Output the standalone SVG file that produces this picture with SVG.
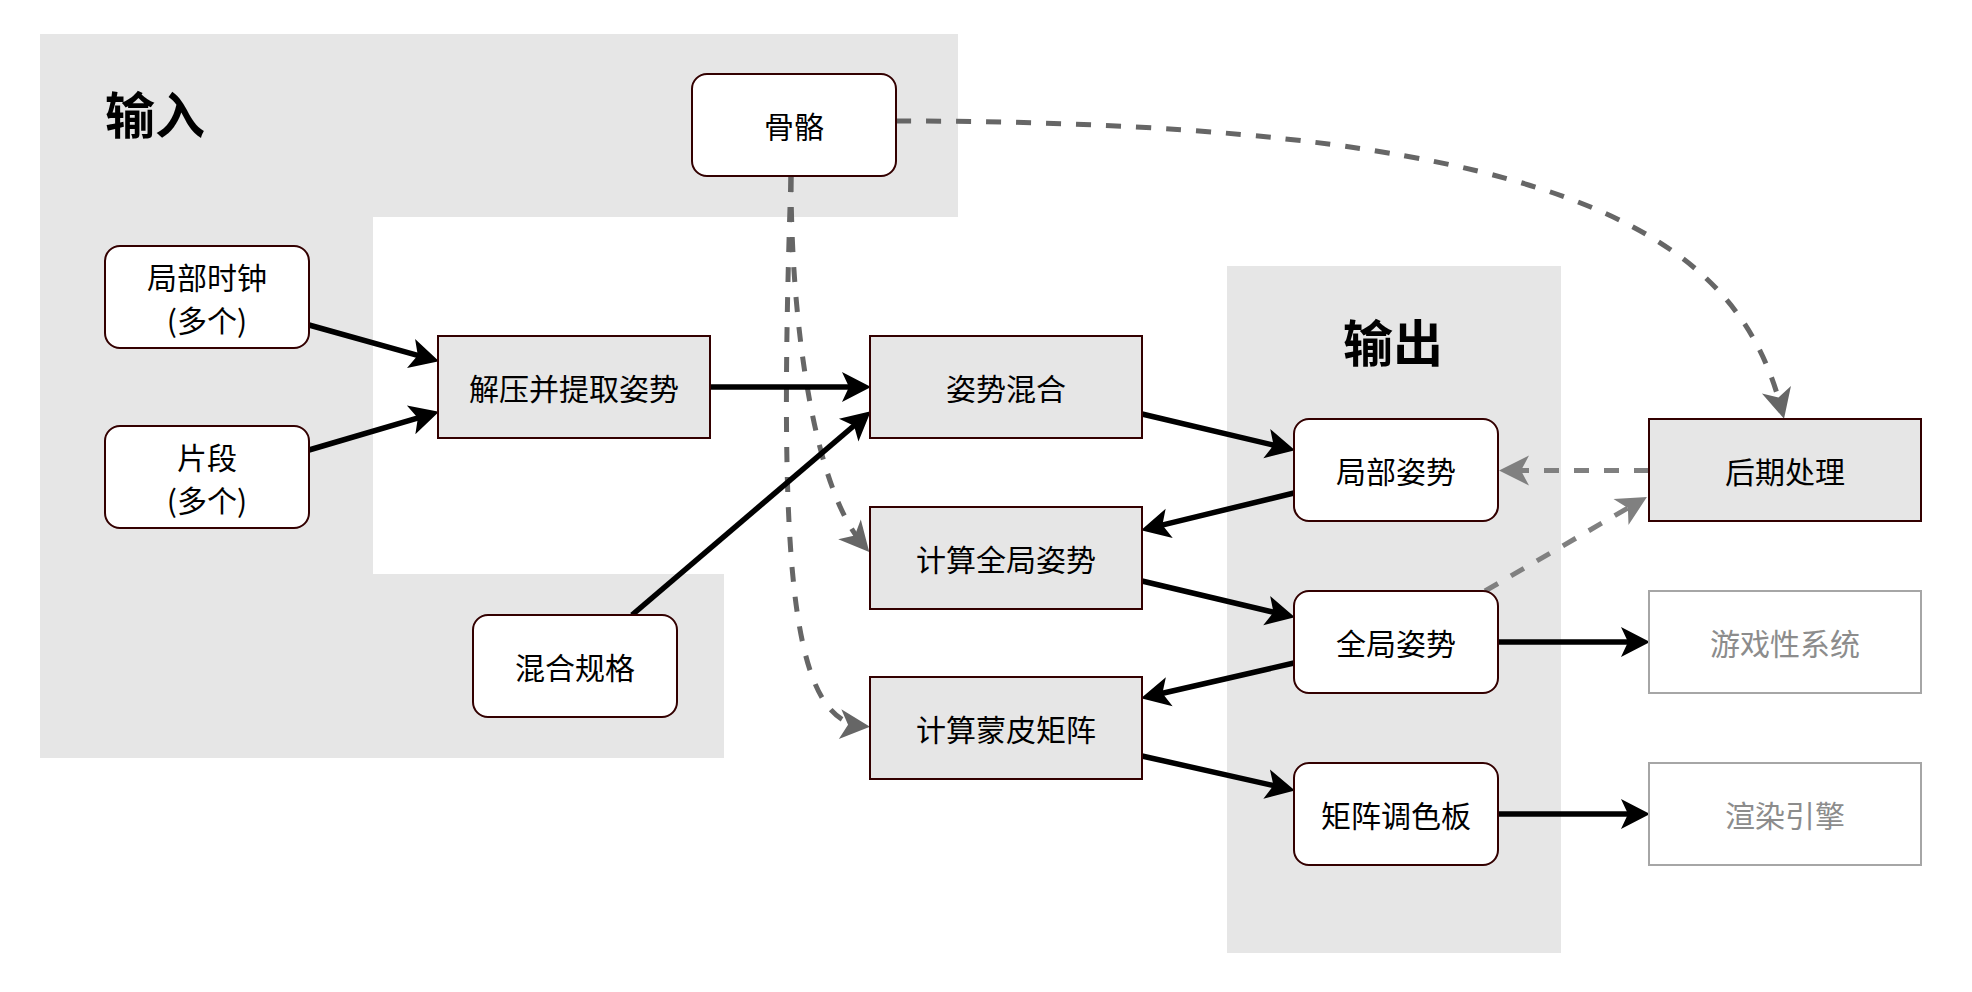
<svg xmlns="http://www.w3.org/2000/svg" width="1972" height="992" viewBox="0 0 1972 992">
<style>
text{font-family:"Noto Sans CJK SC","Noto Sans",sans-serif;text-anchor:middle;dominant-baseline:central;}
.lbl{font-size:30px;fill:#000;}
.ttl{font-size:50px;font-weight:bold;fill:#000;}
.dim{font-size:30px;fill:#8c8c8c;}
.panel{fill:#e6e6e6;stroke:none;}
.rnd{fill:#ffffff;stroke:#330000;stroke-width:2;}
.box{fill:#e6e6e6;stroke:#330000;stroke-width:2;}
.ext{fill:#ffffff;stroke:#a6a6a6;stroke-width:2;}
.solid{fill:none;stroke:#000;stroke-width:5.5;marker-end:url(#ab);}
.dash{fill:none;stroke:#666;stroke-width:5;stroke-dasharray:15 15;marker-end:url(#ag);}
.dash2{fill:none;stroke:#808080;stroke-width:5;stroke-dasharray:15 15;marker-end:url(#ag2);}
</style>
<defs>
<marker id="ab" markerUnits="userSpaceOnUse" markerWidth="30" markerHeight="30" refX="18" refY="15" orient="auto" overflow="visible"><path d="M0,0 L29,15 L0,30 L7,15 Z" fill="#000"/></marker>
<marker id="ag" markerUnits="userSpaceOnUse" markerWidth="32" markerHeight="32" refX="22" refY="15" orient="auto" overflow="visible"><path d="M0,0 L30,15 L0,30 L8,15 Z" fill="#666"/></marker>
<marker id="ag2" markerUnits="userSpaceOnUse" markerWidth="32" markerHeight="32" refX="22" refY="15" orient="auto" overflow="visible"><path d="M0,0 L30,15 L0,30 L8,15 Z" fill="#808080"/></marker>
</defs>
<g id="panels">
<polygon class="panel" points="40,34 958,34 958,217 373,217 373,574 724,574 724,758 40,758"/>
<rect class="panel" x="1227" y="266" width="334" height="687"/>
<text class="ttl" x="155" y="112">输入</text>
<text class="ttl" x="1393" y="340">输出</text>
</g>
<g id="connectors">
<path class="dash" d="M 896 121 C 1600 121, 1740 250, 1782 411"/>
<path class="dash" d="M 791 177 C 791 330, 815 490, 864 546"/>
<path class="dash" d="M 791 177 C 778 560, 790 720, 862 726"/>
<path class="dash2" d="M 1649 470.5 L 1507 470.5"/>
<path class="dash2" d="M 1485 591 L 1640 501"/>
<path class="solid" d="M 309 325 L 428.4 358.3"/>
<path class="solid" d="M 309 450 L 428.4 414.8"/>
<path class="solid" d="M 710 387 L 860 387"/>
<path class="solid" d="M 632 615 L 862.4 418.5"/>
<path class="solid" d="M 1142 414 L 1284.3 447.7"/>
<path class="solid" d="M 1294 493 L 1151.7 527.6"/>
<path class="solid" d="M 1142 581 L 1284.2 614.8"/>
<path class="solid" d="M 1294 663 L 1151.7 695.8"/>
<path class="solid" d="M 1142 756 L 1284.2 788"/>
<path class="solid" d="M 1498 642 L 1639 642"/>
<path class="solid" d="M 1498 814 L 1639 814"/>
</g>
<g id="node-skeleton"><rect class="rnd" x="692" y="74" width="204" height="102" rx="15"/><text class="lbl" x="794" y="125">骨骼</text></g>
<g id="node-localclock"><rect class="rnd" x="105" y="246" width="204" height="102" rx="15"/><text class="lbl" x="207" y="276">局部时钟</text><text class="lbl" x="207" y="319">(多个)</text></g>
<g id="node-clips"><rect class="rnd" x="105" y="426" width="204" height="102" rx="15"/><text class="lbl" x="207" y="456">片段</text><text class="lbl" x="207" y="499">(多个)</text></g>
<g id="node-blendspec"><rect class="rnd" x="473" y="615" width="204" height="102" rx="15"/><text class="lbl" x="575" y="666">混合规格</text></g>
<g id="node-decompress"><rect class="box" x="438" y="336" width="272" height="102"/><text class="lbl" x="574" y="387">解压并提取姿势</text></g>
<g id="node-poseblend"><rect class="box" x="870" y="336" width="272" height="102"/><text class="lbl" x="1006" y="387">姿势混合</text></g>
<g id="node-calcglobal"><rect class="box" x="870" y="507" width="272" height="102"/><text class="lbl" x="1006" y="558">计算全局姿势</text></g>
<g id="node-calcskin"><rect class="box" x="870" y="677" width="272" height="102"/><text class="lbl" x="1006" y="728">计算蒙皮矩阵</text></g>
<g id="node-localpose"><rect class="rnd" x="1294" y="419" width="204" height="102" rx="15"/><text class="lbl" x="1396" y="470">局部姿势</text></g>
<g id="node-globalpose"><rect class="rnd" x="1294" y="591" width="204" height="102" rx="15"/><text class="lbl" x="1396" y="642">全局姿势</text></g>
<g id="node-palette"><rect class="rnd" x="1294" y="763" width="204" height="102" rx="15"/><text class="lbl" x="1396" y="814">矩阵调色板</text></g>
<g id="node-postprocess"><rect class="box" x="1649" y="419" width="272" height="102"/><text class="lbl" x="1785" y="470">后期处理</text></g>
<g id="node-gameplay"><rect class="ext" x="1649" y="591" width="272" height="102"/><text class="dim" x="1785" y="642">游戏性系统</text></g>
<g id="node-render"><rect class="ext" x="1649" y="763" width="272" height="102"/><text class="dim" x="1785" y="814">渲染引擎</text></g>
</svg>
